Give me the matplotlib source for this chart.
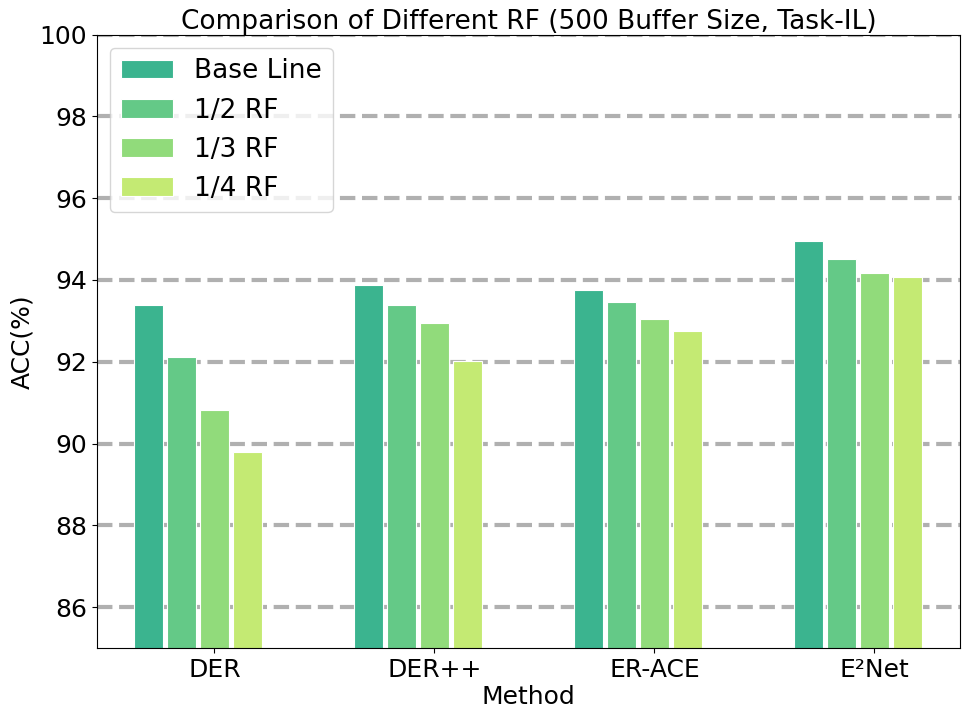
import numpy as np
import matplotlib.pyplot as plt

methods = ['DER', 'DER++', 'ER-ACE', 'E²Net']
series = ['Base Line', '1/2 RF', '1/3 RF', '1/4 RF']
base_line = [93.39, 93.88, 93.75, 94.96]
rf_half = [92.11, 93.39, 93.47, 94.52]
rf_third = [90.82, 92.94, 93.04, 94.18]
rf_quarter = [89.80, 92.02, 92.76, 94.06]
colors = ['#3bb48f', '#64c987', '#91db7b', '#c4ea73']

values = [base_line, rf_half, rf_third, rf_quarter]
x = np.arange(len(methods))
step = 0.15

fig, ax = plt.subplots(figsize=(9.68, 7.2), dpi=100)
fig.subplots_adjust(left=0.1, right=0.992, bottom=0.1, top=0.952)

for i, (name, vals) in enumerate(zip(series, values)):
    ax.bar(x + (i - 2) * step, vals, width=0.13, color=colors[i],
           edgecolor='white', linewidth=0.8, label=name)

ax.set_ylim(85, 100)
ax.set_yticks(np.arange(86, 101, 2))
ax.set_xlim(-0.535, 3.39)
ax.set_xticks(x)
ax.set_xticklabels(methods)
ax.tick_params(labelsize=18)

ax.set_axisbelow(True)
ax.yaxis.grid(True, linestyle='--', linewidth=3, color='#b0b0b0')

ax.set_xlabel('Method', fontsize=18, labelpad=2)
ax.set_ylabel('ACC(%)', fontsize=18)
ax.set_title('Comparison of Different RF (500 Buffer Size, Task-IL)', fontsize=19, pad=3)
ax.legend(loc='upper left', fontsize=19)

plt.savefig('out.png')
